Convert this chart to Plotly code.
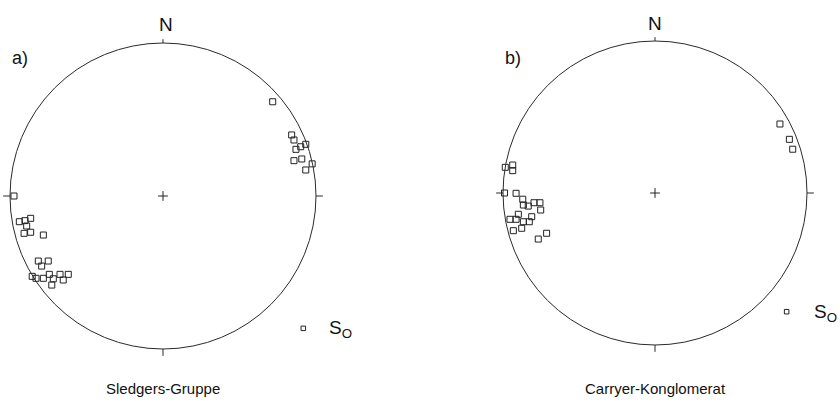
import plotly.graph_objects as go

# Stereonet points, normalized to the primitive circle (east = x, north = y)
a_east = [0.717, 0.841, 0.856, 0.869, 0.900, 0.933, 0.856, 0.907, 0.975, 0.933,
          -0.974, -0.939, -0.902, -0.865, -0.891, -0.908, -0.865, -0.782,
          -0.815, -0.750, -0.793, -0.855, -0.830, -0.782, -0.743, -0.717,
          -0.727, -0.673, -0.619, -0.652]
a_north = [0.616, 0.399, 0.366, 0.305, 0.322, 0.338, 0.231, 0.242, 0.210, 0.170,
           0.000, -0.168, -0.161, -0.146, -0.196, -0.244, -0.237, -0.255,
           -0.425, -0.425, -0.458, -0.525, -0.538, -0.538, -0.512, -0.541,
           -0.582, -0.512, -0.512, -0.549]

b_east = [-0.985, -0.936, -0.936, -0.990, -0.914, -0.870, -0.866, -0.834, -0.796,
          -0.757, -0.752, -0.899, -0.914, -0.954, -0.866, -0.827, -0.811, -0.877,
          -0.932, -0.713, -0.768, 0.822, 0.884, 0.906]
b_north = [0.169, 0.184, 0.147, 0.000, -0.002, -0.041, -0.079, -0.086, -0.064,
           -0.064, -0.112, -0.140, -0.173, -0.173, -0.189, -0.189, -0.156, -0.232,
           -0.248, -0.265, -0.303, 0.454, 0.353, 0.288]

titles = ["Sledgers-Gruppe", "Carryer-Konglomerat"]
panel_labels = ["a)", "b)"]
legend_label = "S<sub>O</sub>"

FONT = "Liberation Sans, Arial, sans-serif"
W, H = 840, 407

# panel geometry (pixels): centre x, centre y, radius
panels = [
    dict(cx=163, cy=196, R=153, x0=0, x1=420, ax="x", ay="y",
         east=a_east, north=a_north, leg=(0.917, -0.865), legtxt=(1.075, -0.87),
         lab=(-0.935, 0.902), n=(0.02, 1.118)),
    dict(cx=655, cy=193, R=152, x0=420, x1=840, ax="x2", ay="y2",
         east=b_east, north=b_north, leg=(0.866, -0.781), legtxt=(1.035, -0.79),
         lab=(-0.934, 0.888), n=(0.0, 1.112)),
]

fig = go.Figure()
shapes = []
annotations = []
layout_axes = {}

for i, p in enumerate(panels):
    xa = "xaxis" if i == 0 else "xaxis2"
    ya = "yaxis" if i == 0 else "yaxis2"
    R = p["R"]
    xr = [(p["x0"] - p["cx"]) / R, (p["x1"] - p["cx"]) / R]
    yr = [(p["cy"] - H) / R, p["cy"] / R]
    layout_axes[xa] = dict(domain=[p["x0"] / W, p["x1"] / W], range=xr,
                           visible=False, fixedrange=True)
    layout_axes[ya] = dict(domain=[0, 1], range=yr, visible=False, fixedrange=True,
                           anchor=p["ax"])
    if i == 1:
        layout_axes[xa]["anchor"] = "y2"

    # primitive circle
    shapes.append(dict(type="circle", xref=p["ax"], yref=p["ay"], x0=-1, x1=1,
                       y0=-1, y1=1, line=dict(color="#2a2a2a", width=1)))
    # N/E/S/W ticks
    t = 0.045
    for (dx, dy, L) in [(0, 1, 0.025), (1, 0, t), (0, -1, t), (-1, 0, t)]:
        shapes.append(dict(type="line", xref=p["ax"], yref=p["ay"],
                           x0=dx * 1.0, y0=dy * 1.0, x1=dx * (1 + L), y1=dy * (1 + L),
                           line=dict(color="#2a2a2a", width=1)))

    # centre cross
    fig.add_trace(go.Scatter(x=[0], y=[0], xaxis=p["ax"], yaxis=p["ay"], mode="markers",
                             marker=dict(symbol="cross-thin", size=7,
                                         line=dict(color="#222", width=1)),
                             showlegend=False, hoverinfo="skip"))
    # poles
    fig.add_trace(go.Scatter(x=p["east"], y=p["north"], xaxis=p["ax"], yaxis=p["ay"],
                             mode="markers",
                             marker=dict(symbol="square-open", size=6, color="#222",
                                         line=dict(color="#222", width=1)),
                             showlegend=False))
    # legend symbol
    fig.add_trace(go.Scatter(x=[p["leg"][0]], y=[p["leg"][1]], xaxis=p["ax"], yaxis=p["ay"],
                             mode="markers",
                             marker=dict(symbol="square-open", size=4.5, color="#222",
                                         line=dict(color="#222", width=1)),
                             showlegend=False, hoverinfo="skip"))

    annotations.append(dict(x=p["legtxt"][0], y=p["legtxt"][1], xref=p["ax"], yref=p["ay"],
                            text=legend_label, showarrow=False, xanchor="left",
                            yanchor="middle", font=dict(family=FONT, size=19, color="#111")))
    annotations.append(dict(x=p["n"][0], y=p["n"][1], xref=p["ax"], yref=p["ay"],
                            text="N", showarrow=False, xanchor="center", yanchor="middle",
                            font=dict(family=FONT, size=19, color="#111")))
    annotations.append(dict(x=p["lab"][0], y=p["lab"][1], xref=p["ax"], yref=p["ay"],
                            text=panel_labels[i], showarrow=False, xanchor="center",
                            yanchor="middle", font=dict(family=FONT, size=18, color="#111")))
    annotations.append(dict(x=0, y=(p["cy"] - 388) / R, xref=p["ax"], yref=p["ay"],
                            text=titles[i], showarrow=False, xanchor="center",
                            yanchor="middle", font=dict(family=FONT, size=15, color="#111")))

fig.update_layout(width=W, height=H, margin=dict(l=0, r=0, t=0, b=0),
                  paper_bgcolor="white", plot_bgcolor="white",
                  shapes=shapes, annotations=annotations, showlegend=False,
                  **layout_axes)

fig.write_html("out.html", config={"displayModeBar": False, "staticPlot": True},
               post_script="document.body.style.margin='0px';document.body.style.overflow='hidden';")
